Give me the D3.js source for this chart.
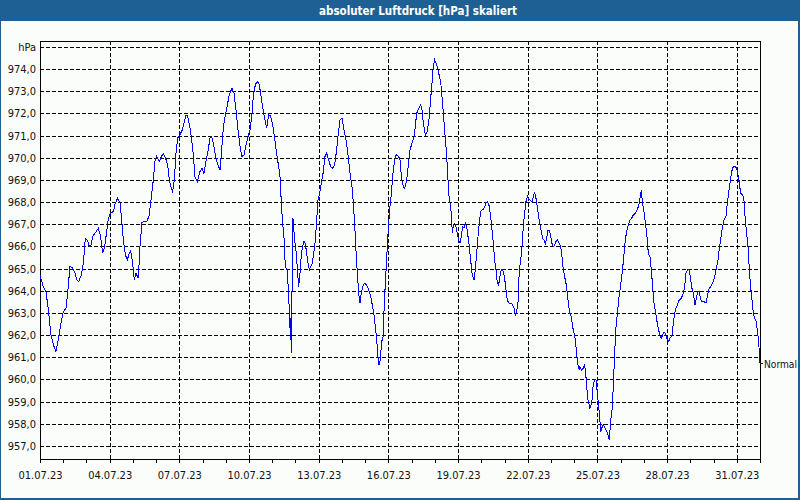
<!DOCTYPE html>
<html>
<head>
<meta charset="utf-8">
<script src="https://cdn.jsdelivr.net/npm/d3@7"></script>
<style>
body{margin:0;background:#fff}
svg{display:block;font-family:"DejaVu Sans Condensed","Liberation Sans",sans-serif}
</style>
</head>
<body>
<div id="chart"></div>
<script>
const title='absoluter Luftdruck [hPa] skaliert';
const seriesName='Normal';
const unit='hPa';
const startDate=new Date(2023,6,1);
const endDate=new Date(2023,7,1);
const yTicks=[957,958,959,960,961,962,963,964,965,966,967,968,969,970,971,972,973,974];

// hours since 01.07.23 00:00
const hours=[
0,3.4,6.2,8.6,11.4,13.8,16.5,18.9,21.4,24.1,26.9,28.9,31.0,33.8,36.2,37.9,40.0,42.7,44.8,46.8,
48.9,51.0,52.7,54.4,57.2,60.3,62.7,64.7,66.5,68.2,70.6,73.0,75.8,77.8,80.2,82.7,84.4,86.1,88.2,90.2,
92.3,93.7,95.7,97.5,99.2,101.6,103.3,105.4,107.5,110.2,112.6,114.7,117.1,118.8,120.5,123.3,125.4,127.4,129.8,131.9,
133.6,135.7,137.1,138.8,140.5,142.2,144.6,147.1,149.1,150.9,152.6,155.0,156.7,158.4,160.1,162.6,165.3,167.4,169.4,171.5,
173.6,175.6,177.4,179.1,181.2,183.2,186.0,
187.7,189.4,191.5,193.6,195.6,198.4,200.5,202.5,204.6,206.7,208.7,210.8,212.9,214.9,217.0,219.1,220.4,222.5,224.6,226.6,
228.7,230.8,232.5,234.2,236.3,238.3,240.4,242.5,244.5,246.6,248.0,249.4,250.7,252.1,253.5,255.6,256.9,258.0,258.7,259.4,
260.0,260.7,261.4,262.1,263.1,264.9,266.2,267.3,268.7,270.0,271.4,272.8,274.2,275.5,276.9,278.3,279.7,281.4,283.1,284.5,
285.9,287.3,289.3,291.0,292.8,294.5,296.2,298.3,300.3,302.4,304.5,306.5,308.3,310.0,312.1,314.1,316.2,318.3,320.3,322.4,
323.8,325.1,326.5,327.9,329.3,330.6,332.0,333.4,335.5,337.5,339.6,341.7,343.7,345.1,346.5,347.9,349.2,350.3,351.7,353.0,
354.4,355.8,357.2,358.2,359.2,360.3,361.6,363.0,364.4,365.8,367.2,368.5,370.6,372.0,
373.7,375.4,376.8,378.9,380.6,382.3,384.4,386.5,387.8,389.2,391.3,393.4,394.7,396.1,398.2,400.2,402.3,403.7,405.1,406.4,
407.8,409.9,412.0,414.0,415.4,416.8,418.1,419.5,420.9,422.3,423.7,425.0,426.1,427.1,428.5,429.9,431.2,432.6,434.0,435.4,
436.7,438.1,439.5,440.9,442.3,443.6,445.0,446.4,448.5,449.8,451.2,452.6,454.0,455.3,456.7,458.1,459.5,460.9,462.6,464.3,
465.7,467.1,468.4,469.8,471.2,472.6,473.9,475.3,476.7,478.1,479.5,480.8,482.2,483.6,485.0,487.0,488.4,489.8,491.2,492.5,
493.9,495.3,496.7,498.1,499.4,500.8,502.2,503.6,504.9,506.3,508.4,509.8,511.1,512.5,513.9,515.3,516.6,518.0,519.4,520.8,
522.2,523.5,524.9,526.3,527.7,529.0,530.4,531.8,533.2,534.6,536.6,538.0,539.4,540.8,542.1,543.5,544.9,546.3,547.6,549.0,
550.4,551.8,553.2,554.5,555.9,557.3,
558.0,559.7,561.4,562.8,563.9,564.9,566.3,568.3,570.1,571.8,573.2,574.5,575.9,577.3,578.3,579.4,580.4,582.1,583.8,585.6,
586.9,588.3,589.7,591.1,592.4,593.8,595.2,596.6,598.0,599.3,600.7,602.1,603.5,604.8,606.2,607.9,609.7,611.4,613.1,615.2,
617.2,619.3,620.7,621.4,622.7,624.8,626.9,628.6,630.3,631.7,633.1,634.5,636.5,637.9,639.3,640.7,642.0,643.4,644.8,646.2,
647.5,649.6,651.0,653.1,654.4,655.8,657.2,658.6,660.6,662.7,664.8,666.1,667.5,668.9,671.0,672.3,673.7,675.1,676.8,678.5,
679.9,681.3,682.7,684.1,686.1,688.2,689.6,690.9,693.0,695.1,696.4,697.8,699.2,700.6,702.0,703.3,704.7,706.8,708.8,710.2,
711.6,713.0,714.4,715.7,717.1,718.5,719.9,721.2,722.6,724.0,726.1,727.4,728.8,730.2,731.6,733.0,734.3,735.7,737.1,738.5,
739.8,741.2,742.6,744.0
];
const hpa=[
964.7,964.19,963.96,963.14,962.0,961.56,961.26,961.78,962.46,963.06,963.21,964.04,965.12,965.02,964.79,964.49,964.41,964.71,965.24,966.34,
966.29,965.99,966.07,966.44,966.62,966.82,966.44,965.69,965.92,966.44,967.27,967.5,967.57,967.95,968.17,967.95,967.2,966.29,965.62,965.39,
965.69,965.81,965.24,964.49,964.79,964.56,965.99,967.08,967.12,967.12,967.35,968.1,969.0,969.83,970.05,969.83,970.05,970.2,969.98,969.68,
969.0,968.62,968.47,969.0,970.2,970.88,971.03,971.26,971.63,971.93,971.89,971.33,970.8,970.13,969.15,968.92,969.38,969.53,969.3,969.83,
970.28,970.88,970.95,970.65,970.13,969.75,969.45,
970.35,971.33,971.93,972.38,972.83,973.14,972.91,972.16,971.26,970.5,970.05,970.13,970.58,970.95,971.26,972.0,972.76,973.29,973.44,973.29,
972.68,972.08,971.71,971.33,971.93,971.89,971.48,970.88,970.2,969.6,969.15,967.95,967.05,966.44,965.09,964.94,963.74,962.83,961.78,962.83,
961.18,965.84,967.27,966.89,966.29,965.69,964.79,964.19,964.79,965.62,965.99,966.22,966.14,965.69,965.24,964.94,965.09,965.24,965.77,966.29,
967.2,968.1,968.47,968.92,969.38,970.05,970.2,969.9,969.6,969.53,969.68,970.35,971.11,971.71,971.78,971.26,970.8,970.13,969.3,968.7,
967.95,967.05,965.84,964.79,963.89,963.44,963.89,964.19,964.34,964.26,964.04,963.74,963.29,962.91,962.38,961.78,961.03,960.65,960.88,961.71,
961.86,963.44,964.64,965.39,966.29,967.05,967.8,968.32,969.15,969.68,970.05,970.13,970.05,969.9,
969.0,968.7,968.62,969.0,969.68,970.35,970.65,970.95,971.41,972.0,972.23,972.38,972.16,971.56,971.03,971.18,971.86,972.68,973.36,974.11,
974.41,974.19,973.81,973.44,972.76,972.0,971.26,970.5,969.6,968.4,967.95,967.5,966.59,966.97,967.05,966.89,966.59,966.29,966.14,966.44,
966.89,966.82,967.05,966.89,966.44,965.99,965.39,964.79,964.49,964.94,965.69,966.44,967.05,967.57,967.65,967.65,967.8,967.95,968.02,967.8,
967.35,966.74,966.14,965.39,964.94,964.34,964.26,964.64,964.94,964.94,964.71,964.34,963.74,963.51,963.44,963.44,963.36,963.21,962.91,963.06,
963.44,964.94,965.39,965.99,966.89,967.5,968.02,968.25,968.1,968.1,968.02,968.25,968.47,968.17,967.8,967.35,966.97,966.67,966.37,966.29,
966.14,966.37,966.74,966.74,966.44,966.14,965.99,966.07,966.22,966.29,966.14,965.99,965.54,964.94,964.64,964.34,963.89,963.29,962.98,962.83,
962.38,962.08,961.78,961.18,960.65,960.43,
960.58,960.43,960.5,960.65,960.28,959.68,959.08,958.7,958.92,959.83,959.98,960.0,959.38,958.77,958.32,957.65,957.8,957.95,957.8,957.65,
957.5,957.27,958.17,958.62,959.68,961.18,962.38,962.98,963.59,964.04,964.49,965.02,965.69,966.29,966.67,966.97,967.2,967.27,967.42,967.5,
967.65,967.95,968.4,968.47,967.95,967.35,966.59,965.69,965.54,964.94,964.19,963.44,962.91,962.53,962.23,961.96,961.86,962.0,962.15,962.08,
961.86,961.71,961.86,962.0,962.53,962.98,963.21,963.36,963.59,963.66,963.89,964.19,964.79,964.94,964.94,964.49,964.11,963.89,963.36,963.74,
963.96,963.96,963.59,963.51,963.51,963.44,963.74,964.04,964.19,964.34,964.49,964.79,965.09,965.39,965.92,966.29,966.74,967.2,967.35,967.95,
968.4,968.85,969.3,969.53,969.63,969.6,969.53,969.23,968.85,968.4,968.32,968.1,967.2,966.59,965.99,964.94,964.19,963.59,962.98,962.76,
962.68,962.23,961.71,960.73
];

const W=800,H=500;
const L=40,R=760,T=41,B=460;
const fmt=d3.timeFormat('%d.%m.%y');
const data=hours.map((h,i)=>({t:new Date(+startDate+h*3600e3),v:hpa[i]}));

const svg=d3.select('#chart').append('svg').attr('width',W).attr('height',H);
svg.append('rect').attr('width',W).attr('height',H).attr('fill','#fbfdfb');

// title bar
svg.append('rect').attr('width',W).attr('height',21).attr('fill','#1e6094');
svg.append('text').attr('x',418).attr('y',15).attr('text-anchor','middle')
  .attr('fill','#fff').attr('font-weight','bold').attr('font-size',11.5).text(title);

// window frame
svg.append('line').attr('x1',0.5).attr('x2',0.5).attr('y1',21).attr('y2',H).attr('stroke','#1e6094');
svg.append('rect').attr('x',798).attr('y',21).attr('width',2).attr('height',H-21).attr('fill','#1e6094');
svg.append('rect').attr('x',0).attr('y',498).attr('width',W).attr('height',2).attr('fill','#1e6094');

const x=d3.scaleTime().domain([startDate,endDate]).range([L,R]);
const y=d3.scaleLinear().domain([957,974]).range([446,69]);
const px=v=>Math.round(v)+0.5;

const g=svg.append('g').attr('shape-rendering','crispEdges');

// grid
const hLines=yTicks.concat([975]);
g.selectAll('.hg').data(hLines).join('line')
  .attr('x1',L).attr('x2',R).attr('y1',d=>px(y(d))).attr('y2',d=>px(y(d)))
  .attr('stroke','#000').attr('stroke-dasharray','4,2');
const majors=d3.timeDay.every(3).range(startDate,endDate);
g.selectAll('.vg').data(majors.filter(d=>+d!==+startDate)).join('line')
  .attr('x1',d=>px(x(d))).attr('x2',d=>px(x(d))).attr('y1',T).attr('y2',B)
  .attr('stroke','#000').attr('stroke-dasharray','4,2');

// frame of plot
g.append('rect').attr('x',L+0.5).attr('y',T+0.5).attr('width',R-L).attr('height',B-T-1)
  .attr('fill','none').attr('stroke','#000');

// day ticks
g.selectAll('.tk').data(d3.timeDay.range(startDate,d3.timeDay.offset(endDate,1))).join('line')
  .attr('x1',d=>px(x(d))).attr('x2',d=>px(x(d))).attr('y1',B).attr('y2',B+3).attr('stroke','#000');

// labels
svg.selectAll('.xl').data(majors).join('text')
  .attr('x',d=>x(d)+0.5).attr('y',479).attr('text-anchor','middle')
  .attr('font-size',11).attr('fill','#111').text(d=>fmt(d));
svg.selectAll('.yl').data(yTicks).join('text')
  .attr('x',36).attr('y',d=>Math.round(y(d))+4).attr('text-anchor','end')
  .attr('font-size',11).attr('fill','#111').text(d=>d3.format('.1f')(d).replace('.',','));
svg.append('text').attr('x',36).attr('y',Math.round(y(975))+4).attr('text-anchor','end')
  .attr('font-size',11).attr('fill','#111').text(unit);

// series
const line=d3.line().x(d=>x(d.t)).y(d=>y(d.v));
svg.append('path').datum(data).attr('d',line).attr('fill','none')
  .attr('stroke','#0000ff').attr('stroke-width',1).attr('shape-rendering','crispEdges');
const last=data[data.length-1];
svg.append('line').attr('x1',R).attr('x2',R+3).attr('y1',px(y(last.v))).attr('y2',px(y(last.v)))
  .attr('stroke','#1a1a6a').attr('shape-rendering','crispEdges');
svg.append('text').attr('x',R+4).attr('y',Math.round(y(last.v))+5)
  .attr('font-size',11).attr('fill','#111')
  .attr('textLength',33).attr('lengthAdjust','spacingAndGlyphs').text(seriesName);
</script>
</body>
</html>
